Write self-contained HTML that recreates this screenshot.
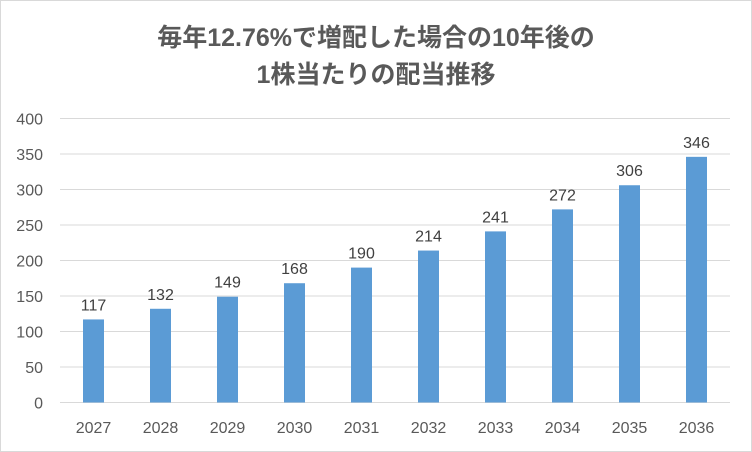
<!DOCTYPE html>
<html><head><meta charset="utf-8"><style>
body{margin:0;background:#fff}
svg{display:block;font-family:"Liberation Sans","Noto Sans CJK JP",sans-serif}
</style></head><body>
<svg id="c" width="752" height="452">
<rect x="0.5" y="0.5" width="751" height="451" fill="#fff" stroke="#d9d9d9"/>
<text x="376" y="46" text-anchor="middle" font-size="25" font-weight="bold" fill="#595959">毎年12.76%で増配した場合の10年後の</text>
<text x="376" y="83" text-anchor="middle" font-size="25" font-weight="bold" fill="#595959">1株当たりの配当推移</text>
<g id="g"></g>
</svg>
<script>
const categories=["2027","2028","2029","2030","2031","2032","2033","2034","2035","2036"];
const values=[117,132,149,168,190,214,241,272,306,346];
const ticks=[0,50,100,150,200,250,300,350,400];
const NS="http://www.w3.org/2000/svg";
const g=document.getElementById("g");
const L=60,R=730,T=118.5,B=402.5,MAX=400;
const y=v=>B-(B-T)*v/MAX;
const step=(R-L)/categories.length;
const x=i=>L+step*(i+0.5);
function mk(t,a,txt){const e=document.createElementNS(NS,t);for(const k in a)e.setAttribute(k,a[k]);if(txt!==undefined)e.textContent=txt;g.appendChild(e);return e;}
ticks.forEach(t=>{
 const l=mk("line",{x1:L,x2:R,y1:y(t),y2:y(t),stroke:"#d9d9d9","stroke-width":1});
 
 
 const tx=mk("text",{x:43,y:y(t)+6,"text-anchor":"end","font-size":16,fill:"#595959"},t);
 
 
});
categories.forEach((c,i)=>{
 const bw=21;
 const r=mk("rect",{x:x(i)-bw/2,y:y(values[i]),width:bw,height:B-y(values[i]),fill:"#5b9bd5"});
 
 
 const v=mk("text",{x:x(i),y:y(values[i])-9,"text-anchor":"middle","font-size":16,fill:"#404040"},values[i]);
 
 
 const cl=mk("text",{x:x(i),y:433,"text-anchor":"middle","font-size":16,fill:"#595959"},c);
 
 
});
</script>
</body></html>
